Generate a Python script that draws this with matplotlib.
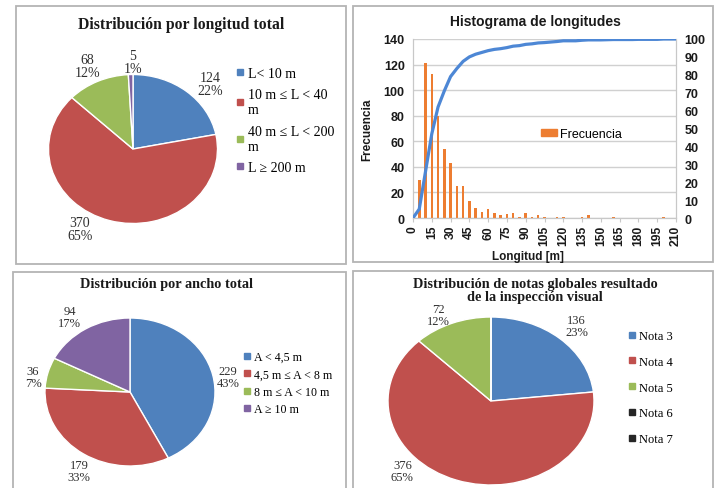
import matplotlib
matplotlib.use("Agg")
import matplotlib.pyplot as plt
from matplotlib.patches import Rectangle, Patch
from matplotlib.lines import Line2D

# ---- data ----
long_labels = ["L< 10 m", "10 m \u2264 L < 40\nm", "40 m \u2264 L < 200\nm", "L \u2265 200 m"]
long_values = [124, 370, 68, 5]
long_pct = [22, 65, 12, 1]

ancho_labels = ["A < 4,5 m", "4,5 m \u2264 A < 8 m", "8 m \u2264 A < 10 m", "A \u2265 10 m"]
ancho_values = [229, 179, 36, 94]
ancho_pct = [43, 33, 7, 17]

nota_labels = ["Nota 3", "Nota 4", "Nota 5", "Nota 6", "Nota 7"]
nota_values = [136, 376, 72, 0, 0]
nota_pct = [23, 65, 12, 0, 0]

hist_x = list(range(0, 211, 5))
hist_freq = [0, 30, 121, 113, 80, 54, 43, 25, 25, 13, 8, 5, 7, 4, 2, 3, 4, 1, 4, 1,
             2, 1, 0, 1, 1, 0, 0, 1, 2, 0, 0, 0, 1, 0, 0, 0, 0, 0, 0, 0, 1, 0, 0]
hist_cum = [0, 5, 26, 47, 62, 71, 79, 83.5, 87.5, 90, 91.5, 92.5, 93.5, 94.2, 94.6,
            95.2, 96, 96.3, 97, 97.3, 97.8, 98, 98.3, 98.6, 99, 99, 99, 99.3, 99.5,
            99.5, 99.5, 99.6, 99.7, 99.7, 99.7, 99.7, 99.8, 99.8, 99.8, 99.8, 100, 100, 100]

pie_colors = ["#4F81BD", "#C0504D", "#9BBB59", "#8064A2"]
nota_colors = ["#4F81BD", "#C0504D", "#9BBB59", "#262626", "#262626"]

W, H = 717, 489
fig = plt.figure(figsize=(W / 100, H / 100), dpi=100)
SERIF = "Liberation Serif"
SANS = "Liberation Sans"


def box(x0, y0, x1, y1):
    # pixel box (top-left origin) -> figure fraction
    return [x0 / W, 1 - y1 / H, (x1 - x0) / W, (y1 - y0) / H]


def frame(x0, y0, x1, y1):
    fig.patches.append(Rectangle((x0 / W, 1 - y1 / H), (x1 - x0) / W, (y1 - y0) / H,
                                 transform=fig.transFigure, fill=False,
                                 ec="#B4B4B4", lw=1.3))


def pie_panel(bx, values, pct, colors, lbl_pos, fs):
    ax = fig.add_axes(box(*bx))
    labels = [f"{v}\n{p}%" if v else "" for v, p in zip(values, pct)]
    wedges, texts = ax.pie(values, colors=colors, startangle=90, counterclock=False,
                           labels=labels, wedgeprops=dict(edgecolor="white", linewidth=1.0),
                           textprops=dict(family=SERIF, fontsize=fs, color="#303030"))
    for t, pos in zip(texts, lbl_pos):
        t.set_position(pos)
        t.set_ha("center")
        t.set_va("center")
        t.set_linespacing(1.0)
    ax.set_aspect("auto")
    ax.set_xlim(-1, 1)
    ax.set_ylim(-1, 1)
    ax.axis("off")
    return ax


def pie_legend(labels, colors, x, y, fs, spacing):
    handles = [Line2D([], [], marker="s", ls="none", color=c, markersize=4.5) for c in colors]
    fig.legend(handles, labels, loc="upper left", bbox_to_anchor=(x / W, 1 - y / H),
               frameon=False, prop=dict(family=SERIF, size=fs), handlelength=0.5,
               handletextpad=0.3, labelspacing=spacing, borderpad=0, borderaxespad=0)


# panel frames
frame(16, 7, 346, 265)
frame(353, 7, 713, 263)
frame(13, 273, 346, 495)
frame(353, 272, 713, 495)

# ---- top left: longitud ----
fig.text(181 / W, 1 - 25 / H, "Distribución por longitud total", ha="center", va="center",
         family=SERIF, weight="bold", fontsize=11.3, color="#1a1a1a")
pie_panel((48.5, 75.5, 217.5, 224.5), long_values, long_pct, pie_colors,
          [(0.91, 0.87), (-0.63, -1.07), (-0.54, 1.11), (0.0, 1.17)], 10)
pie_legend(long_labels, pie_colors, 237, 68, 10, 0.6)

# ---- bottom left: ancho ----
fig.text(167 / W, 1 - 285 / H, "Distribución por ancho total", ha="center", va="center",
         family=SERIF, weight="bold", fontsize=10.3, color="#1a1a1a")
pie_panel((45, 319, 215, 467), ancho_values, ancho_pct, pie_colors,
          [(1.15, 0.2), (-0.6, -1.07), (-1.14, 0.2), (-0.71, 1.01)], 9)
pie_legend(ancho_labels, pie_colors, 244, 352, 8.6, 0.45)

# ---- bottom right: notas ----
fig.text(535 / W, 1 - 291 / H, "Distribución de notas globales resultado\nde la inspección visual",
         ha="center", va="center", family=SERIF, weight="bold", fontsize=10.3,
         color="#1a1a1a", linespacing=1.0)
pie_panel((388, 318, 594, 486), nota_values, nota_pct, nota_colors,
          [(0.83, 0.89), (-0.86, -0.83), (-0.51, 1.02), (0, 0), (0, 0)], 9)
pie_legend(nota_labels, nota_colors, 629, 331, 9, 1.1)

# ---- top right: histogram ----
ax = fig.add_axes(box(413, 40, 676, 219))
ax.bar(hist_x, hist_freq, width=2.0, color="#ED7D31", zorder=2, label="Frecuencia")
ax.set_xlim(0, 210)
ax.set_ylim(0, 140)
ax.set_yticks(range(0, 141, 20))
ax.set_xticks(range(0, 211, 15))
ax.grid(axis="y", color="#D0D0D0", lw=1.0, zorder=0)
ax.set_axisbelow(True)
ax.spines["top"].set_visible(False)
for s in ["left", "right", "bottom"]:
    ax.spines[s].set_color("#C8C8C8")
ax.tick_params(axis="y", length=0, pad=6, labelsize=9, labelcolor="#1a1a1a")
ax.tick_params(axis="x", length=3, color="#C8C8C8", pad=2, labelsize=8.7,
               labelcolor="#1a1a1a", labelrotation=90)
for lb in ax.get_xticklabels() + ax.get_yticklabels():
    lb.set_family(SANS)
    lb.set_weight("bold")

ax2 = ax.twinx()
ax2.plot(hist_x, hist_cum, color="#4D87D5", lw=2.3, zorder=3)
ax2.set_ylim(0, 100)
ax2.set_yticks(range(0, 101, 10))
ax2.tick_params(axis="y", length=0, pad=6, labelsize=9, labelcolor="#1a1a1a")
ax2.spines["top"].set_visible(False)
for s in ["left", "right", "bottom"]:
    ax2.spines[s].set_color("#C8C8C8")
for lb in ax2.get_yticklabels():
    lb.set_family(SANS)
    lb.set_weight("bold")

fig.text(535 / W, 1 - 22 / H, "Histograma de longitudes", ha="center", va="center",
         family=SANS, weight="bold", fontsize=10, color="#1a1a1a")
fig.text(367 / W, 1 - 130 / H, "Frecuencia", ha="center", va="center", rotation=90,
         family=SANS, weight="bold", fontsize=8.5, color="#1a1a1a")
fig.text(528 / W, 1 - 257 / H, "Longitud [m]", ha="center", va="center",
         family=SANS, weight="bold", fontsize=8.5, color="#1a1a1a")
fig.legend([Patch(color="#ED7D31")], ["Frecuencia"], loc="center left",
           bbox_to_anchor=(541 / W, 1 - 135 / H), frameon=False,
           prop=dict(family=SANS, size=9), handlelength=1.3, handleheight=0.4,
           handletextpad=0.2, borderpad=0, borderaxespad=0)

fig.savefig("out.png", dpi=100, facecolor="white")
